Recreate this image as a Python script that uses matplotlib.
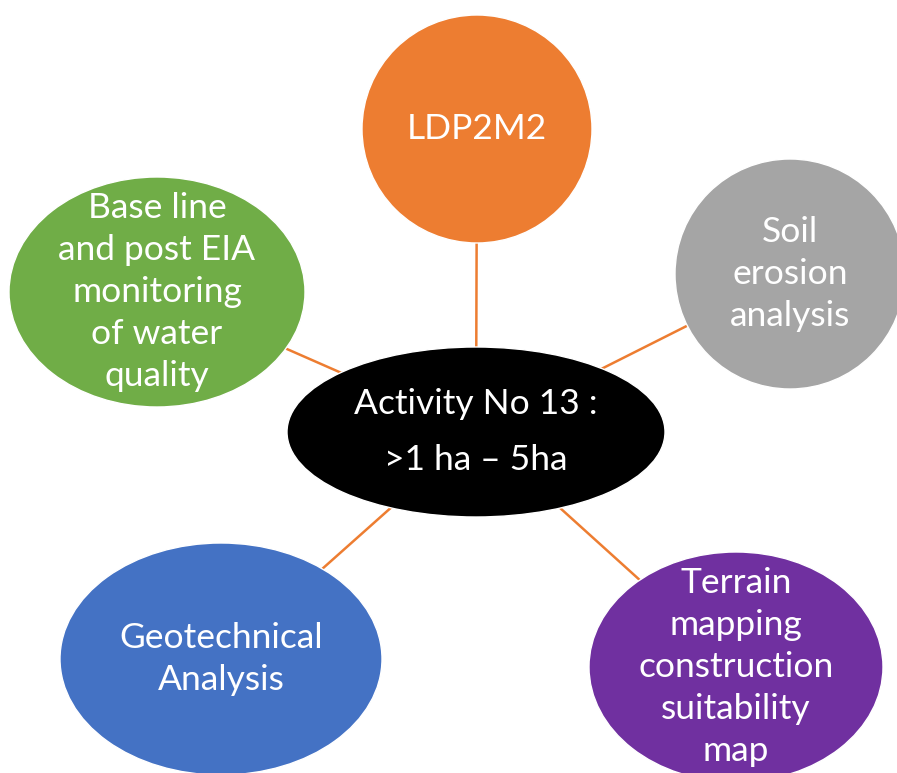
import matplotlib.pyplot as plt
from matplotlib.patches import Ellipse

plt.rcParams['font.family'] = ['Lato', 'DejaVu Sans']

# hub node
hub_label = "Activity No 13 :\n>1 ha \u2013 5ha"
hub_xy = (476, 432)
hub_size = (378, 170)

# outer nodes
labels = [
    "LDP2M2",
    "Soil\nerosion\nanalysis",
    "Base line\nand post EIA\nmonitoring\nof water\nquality",
    "Geotechnical\nAnalysis",
    "Terrain\nmapping\nconstruction\nsuitability\nmap",
]
centers_x = [477, 790, 157, 221, 736]
centers_y = [129, 274, 292, 659, 667]
widths = [230, 230, 296, 322, 294]
heights = [228, 230, 230, 232, 230]
colors = ["#ED7D31", "#A5A5A5", "#70AD47", "#4472C4", "#7030A0"]

fig = plt.figure(figsize=(8.97, 7.73), dpi=100)
ax = fig.add_axes([0, 0, 1, 1])
ax.set_xlim(0, 897)
ax.set_ylim(773, 0)
ax.set_aspect('equal')
ax.axis('off')

for x, y in zip(centers_x, centers_y):
    ax.plot([hub_xy[0], x], [hub_xy[1], y], color="#ED7D31", lw=1.8, zorder=1)

for lab, x, y, w, h, c in zip(labels, centers_x, centers_y, widths, heights, colors):
    ax.add_patch(Ellipse((x, y), w, h, facecolor=c, edgecolor='white', lw=1, zorder=2))
    ax.text(x, y, lab, color='white', fontsize=25.5, ha='center', va='center',
            linespacing=1.39, zorder=3)

ax.add_patch(Ellipse(hub_xy, hub_size[0], hub_size[1], facecolor='black', edgecolor='white', lw=1, zorder=2))
ax.text(hub_xy[0], hub_xy[1], hub_label, color='white', fontsize=25.5, ha='center', va='center',
        linespacing=1.9, zorder=3)

fig.savefig("out.png", dpi=100, facecolor='white')
